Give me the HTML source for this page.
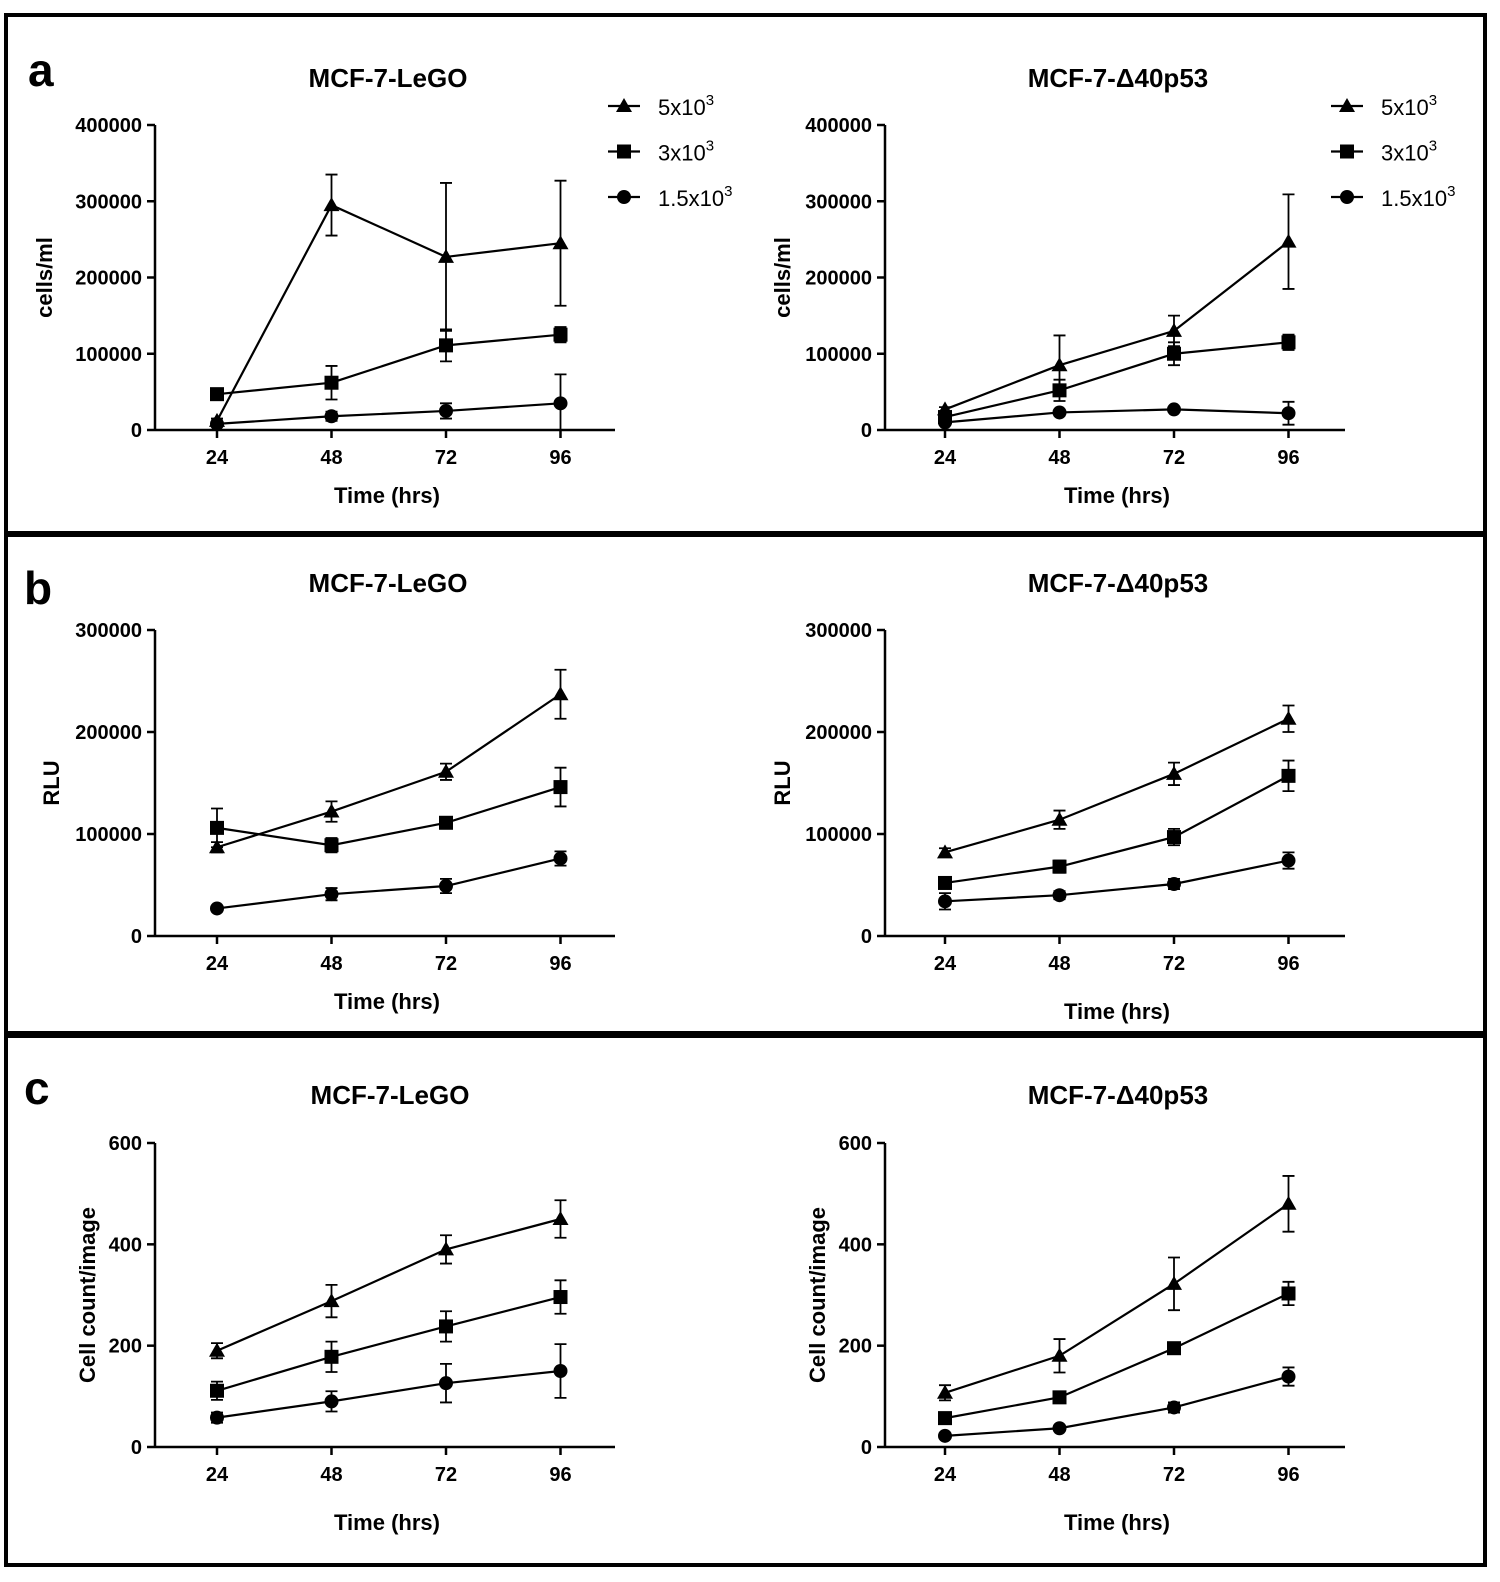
<!DOCTYPE html>
<html><head><meta charset="utf-8">
<style>
html,body{margin:0;padding:0;background:#fff;overflow:hidden;width:1500px;height:1582px}
svg{display:block}
text{font-family:"Liberation Sans",Arial,sans-serif;font-weight:bold;fill:#000}
</style></head>
<body>
<svg id="fig" width="1500" height="1582" viewBox="0 0 1500 1582" xmlns="http://www.w3.org/2000/svg">
<rect x="6" y="15" width="1479" height="518" fill="none" stroke="#000" stroke-width="4"/>
<rect x="6" y="535" width="1479" height="498" fill="none" stroke="#000" stroke-width="4"/>
<rect x="6" y="1036" width="1479" height="529" fill="none" stroke="#000" stroke-width="4"/>
<text x="28" y="86" font-size="46">a</text>
<text x="24" y="604" font-size="46">b</text>
<text x="24" y="1104" font-size="46">c</text>
</svg>
<script>
const xCats = [24, 48, 72, 96];
const seriesNames = ["5x10", "3x10", "1.5x10"];
// panel a (cells/ml)
const aLeftTri = [12000, 295000, 227000, 245000];
const aLeftTriErr = [3000, 40000, 97000, 82000];
const aLeftSq = [47000, 62000, 111000, 125000];
const aLeftSqErr = [3000, 22000, 21000, 10000];
const aLeftCirc = [8000, 18000, 25000, 35000];
const aLeftCircErr = [3000, 6000, 10000, 38000];
const aRightTri = [27000, 85000, 130000, 247000];
const aRightTriErr = [3000, 39000, 20000, 62000];
const aRightSq = [17000, 52000, 100000, 115000];
const aRightSqErr = [3000, 14000, 15000, 10000];
const aRightCirc = [10000, 23000, 27000, 22000];
const aRightCircErr = [3000, 3000, 3000, 15000];
const aTicks = [0, 100000, 200000, 300000, 400000];
// panel b (RLU)
const bLeftTri = [87000, 122000, 161000, 237000];
const bLeftTriErr = [5000, 10000, 8000, 24000];
const bLeftSq = [106000, 89000, 111000, 146000];
const bLeftSqErr = [19000, 7000, 4000, 19000];
const bLeftCirc = [27000, 41000, 49000, 76000];
const bLeftCircErr = [2000, 6000, 7000, 7000];
const bRightTri = [82000, 114000, 159000, 213000];
const bRightTriErr = [4000, 9000, 11000, 13000];
const bRightSq = [52000, 68000, 97000, 157000];
const bRightSqErr = [4000, 6000, 8000, 15000];
const bRightCirc = [34000, 40000, 51000, 74000];
const bRightCircErr = [8000, 4000, 5000, 8000];
const bTicks = [0, 100000, 200000, 300000];
// panel c (cell count/image)
const cLeftTri = [190, 288, 390, 450];
const cLeftTriErr = [15, 32, 28, 37];
const cLeftSq = [111, 178, 238, 296];
const cLeftSqErr = [18, 30, 30, 33];
const cLeftCirc = [58, 90, 126, 150];
const cLeftCircErr = [10, 20, 38, 53];
const cRightTri = [107, 180, 322, 480];
const cRightTriErr = [15, 33, 52, 55];
const cRightSq = [57, 98, 195, 303];
const cRightSqErr = [5, 5, 5, 23];
const cRightCirc = [22, 37, 78, 139];
const cRightCircErr = [3, 5, 10, 18];
const cTicks = [0, 200, 400, 600];

const svg = document.getElementById('fig');
const NS = 'http://www.w3.org/2000/svg';
function mk(tag, attrs, parent) {
  const e = document.createElementNS(NS, tag);
  for (const k in attrs) e.setAttribute(k, attrs[k]);
  (parent || svg).appendChild(e);
  return e;
}
function marker(g, shape, x, y) {
  let e;
  if (shape === 'tri') e = mk('polygon', {points: `${x},${y-8} ${x-8},${y+6} ${x+8},${y+6}`, fill: '#000'}, g);
  else if (shape === 'sq') e = mk('rect', {x: x-7, y: y-7, width: 14, height: 14, fill: '#000'}, g);
  else e = mk('circle', {cx: x, cy: y, r: 7, fill: '#000'}, g);
  return e;
}
function chart(o) {
  const g = mk('g', {});
  
  
  const x0 = o.ax, x1 = o.ax + 460, yb = o.yb, yt = o.yt;
  const ymax = o.ticks[o.ticks.length - 1];
  const xs = v => o.x24 + (v - 24) / 24 * 114.5;
  const ys = v => yb - v / ymax * (yb - yt);
  const yAxis = mk('line', {x1: x0, y1: yt, x2: x0, y2: yb, stroke: '#000', 'stroke-width': 2.5}, g);
  
  
  const xAxis = mk('line', {x1: x0, y1: yb, x2: x1, y2: yb, stroke: '#000', 'stroke-width': 2.5}, g);
  
  
  o.ticks.forEach(t => {
    const y = ys(t);
    mk('line', {x1: x0 - 8, y1: y, x2: x0, y2: y, stroke: '#000', 'stroke-width': 2.5}, g);
    const tl = mk('text', {x: x0 - 13, y: y + 7, 'font-size': 20, 'text-anchor': 'end'}, g);
    tl.textContent = t;
    
    
  });
  xCats.forEach(c => {
    const x = xs(c);
    mk('line', {x1: x, y1: yb, x2: x, y2: yb + 8, stroke: '#000', 'stroke-width': 2.5}, g);
    const tl = mk('text', {x: x, y: yb + 34, 'font-size': 20, 'text-anchor': 'middle'}, g);
    tl.textContent = c;
    
    
  });
  const title = mk('text', {x: o.tx, y: o.ty, 'font-size': 26, 'text-anchor': 'middle'}, g);
  title.textContent = o.title;
  
  
  const xl = mk('text', {x: x0 + 232, y: o.xly, 'font-size': 22, 'text-anchor': 'middle'}, g);
  xl.textContent = 'Time (hrs)';
  
  
  const yl = mk('text', {x: 0, y: 0, 'font-size': 22, 'text-anchor': 'middle', transform: `translate(${o.ylx},${(yt + yb) / 2}) rotate(-90)`}, g);
  yl.textContent = o.ylabel;
  
  
  const shapes = ['tri', 'sq', 'circ'];
  o.series.forEach((s, si) => {
    const sg = mk('g', {}, g);
    
    
    const pts = s.v.map((v, i) => `${xs(xCats[i])},${ys(v)}`).join(' ');
    mk('polyline', {points: pts, fill: 'none', stroke: '#000', 'stroke-width': 2.2}, sg);
    s.v.forEach((v, i) => {
      const x = xs(xCats[i]), e = s.e[i];
      const eb = mk('path', {d: `M${x},${ys(v + e)}V${ys(Math.max(0, v - e))}M${x - 6},${ys(v + e)}H${x + 6}M${x - 6},${ys(Math.max(0, v - e))}H${x + 6}`, stroke: '#000', 'stroke-width': 1.8, fill: 'none'}, sg);
      
      
      const m = marker(sg, shapes[si], x, ys(v));
      
      
    });
  });
  if (o.legend) {
    const lg = mk('g', {}, g);
    
    
    seriesNames.forEach((n, i) => {
      const y = o.legend.y + i * 45.5;
      const lx = o.legend.x;
      mk('line', {x1: lx, y1: y, x2: lx + 32, y2: y, stroke: '#000', 'stroke-width': 2.2}, lg);
      marker(lg, shapes[i], lx + 16, y);
      const t = mk('text', {x: lx + 50, y: y + 9, 'font-size': 22, style: 'font-weight:normal'}, lg);
      t.textContent = n;
      
      
      const sup = mk('tspan', {dy: -10, 'font-size': 15}, t);
      sup.textContent = '3';
    });
  }
}
const L = '\u0394';
chart({name: 'chart-a-left', ax: 155, x24: 217, yt: 125, yb: 430, ticks: aTicks, title: 'MCF-7-LeGO', tx: 388, ty: 87, xly: 503, ylabel: 'cells/ml', ylx: 52,
  series: [{v: aLeftTri, e: aLeftTriErr}, {v: aLeftSq, e: aLeftSqErr}, {v: aLeftCirc, e: aLeftCircErr}], legend: {x: 608, y: 106}});
chart({name: 'chart-a-right', ax: 885, x24: 945, yt: 125, yb: 430, ticks: aTicks, title: 'MCF-7-' + L + '40p53', tx: 1118, ty: 87, xly: 503, ylabel: 'cells/ml', ylx: 790,
  series: [{v: aRightTri, e: aRightTriErr}, {v: aRightSq, e: aRightSqErr}, {v: aRightCirc, e: aRightCircErr}], legend: {x: 1331, y: 106}});
chart({name: 'chart-b-left', ax: 155, x24: 217, yt: 630, yb: 936, ticks: bTicks, title: 'MCF-7-LeGO', tx: 388, ty: 592, xly: 1009, ylabel: 'RLU', ylx: 59,
  series: [{v: bLeftTri, e: bLeftTriErr}, {v: bLeftSq, e: bLeftSqErr}, {v: bLeftCirc, e: bLeftCircErr}]});
chart({name: 'chart-b-right', ax: 885, x24: 945, yt: 630, yb: 936, ticks: bTicks, title: 'MCF-7-' + L + '40p53', tx: 1118, ty: 592, xly: 1019, ylabel: 'RLU', ylx: 790,
  series: [{v: bRightTri, e: bRightTriErr}, {v: bRightSq, e: bRightSqErr}, {v: bRightCirc, e: bRightCircErr}]});
chart({name: 'chart-c-left', ax: 155, x24: 217, yt: 1143, yb: 1447, ticks: cTicks, title: 'MCF-7-LeGO', tx: 390, ty: 1104, xly: 1530, ylabel: 'Cell count/image', ylx: 95,
  series: [{v: cLeftTri, e: cLeftTriErr}, {v: cLeftSq, e: cLeftSqErr}, {v: cLeftCirc, e: cLeftCircErr}]});
chart({name: 'chart-c-right', ax: 885, x24: 945, yt: 1143, yb: 1447, ticks: cTicks, title: 'MCF-7-' + L + '40p53', tx: 1118, ty: 1104, xly: 1530, ylabel: 'Cell count/image', ylx: 825,
  series: [{v: cRightTri, e: cRightTriErr}, {v: cRightSq, e: cRightSqErr}, {v: cRightCirc, e: cRightCircErr}]});
</script>
</body></html>
